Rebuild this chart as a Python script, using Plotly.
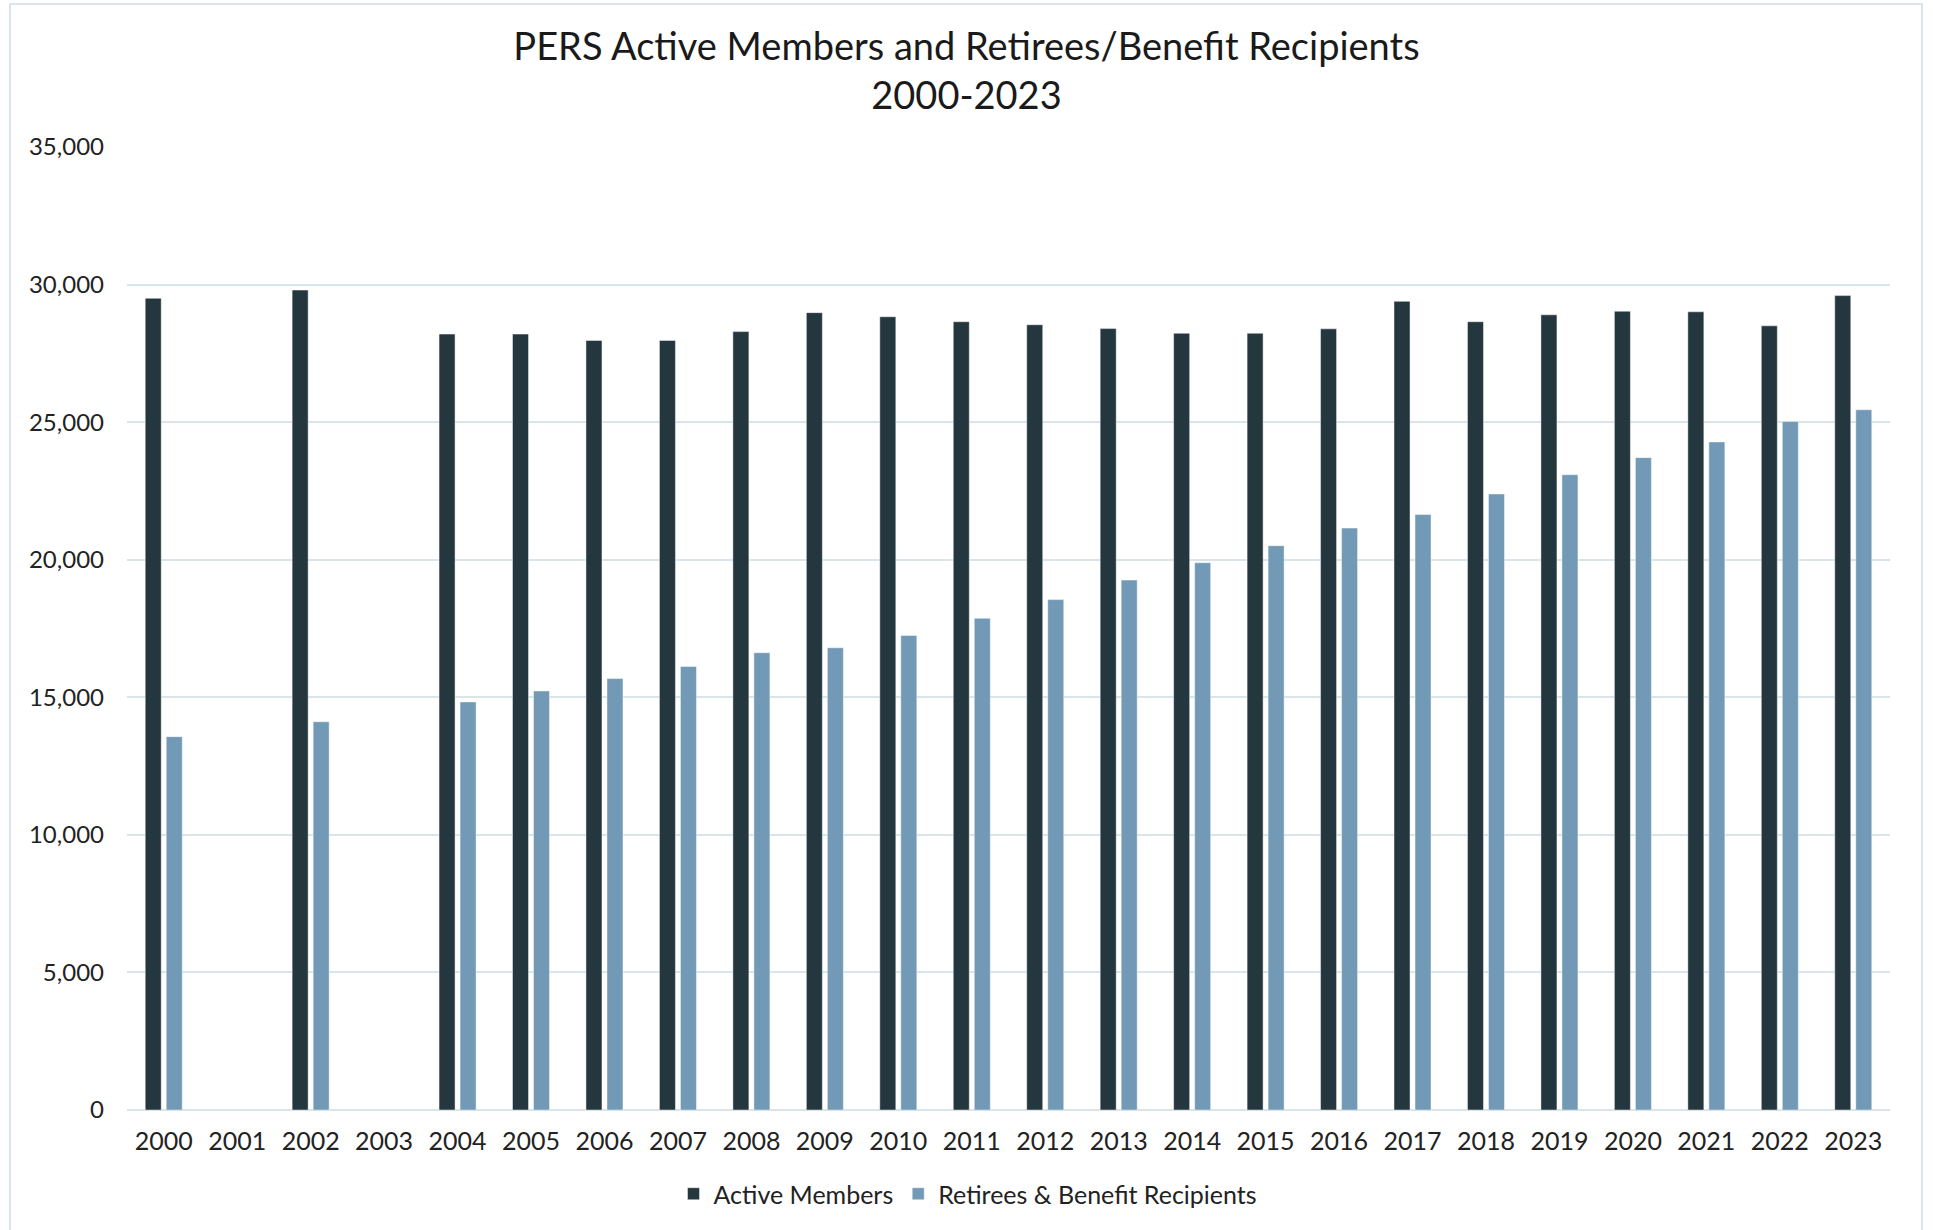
import plotly.graph_objects as go

years = [str(y) for y in range(2000, 2024)]
active_members = [29500, None, 29800, None, 28200, 28200, 27970, 27970, 28290, 28980,
                  28830, 28650, 28540, 28400, 28230, 28230, 28390, 29390, 28650, 28900,
                  29030, 29010, 28500, 29600]
retirees = [13570, None, 14110, None, 14830, 15230, 15680, 16120, 16620, 16800,
            17250, 17870, 18550, 19260, 19890, 20510, 21150, 21640, 22390, 23090,
            23710, 24280, 25020, 25450]
y_ticks = [0, 5000, 10000, 15000, 20000, 25000, 30000, 35000]

DARK = "#25373E"
LIGHT = "#7299B6"
GRID = "#D9E5E8"
FONT = "Lato"

W, H = 1933, 1230
# plot area in page pixels
PL, PR, PT, PB = 127, 1890, 147, 1110
ML, MT = PL, PT
MR, MB = W - PR, H - PB
PW, PH = W - ML - MR, H - MT - MB

fig = go.Figure()
fig.add_trace(go.Bar(x=years, y=active_members, name="Active Members",
                     marker=dict(color=DARK, line=dict(width=1, color="rgba(255,255,255,0.45)"))))
fig.add_trace(go.Bar(x=years, y=retirees, name="Retirees & Benefit Recipients",
                     marker=dict(color=LIGHT, line=dict(width=1, color="rgba(255,255,255,0.45)"))))

def px_x(p):
    return (p - ML) / PW

def px_y(p):
    return (H - MB - p) / PH

fig.update_layout(
    width=W, height=H, autosize=False,
    margin=dict(l=ML, r=MR, t=MT, b=MB, autoexpand=False),
    paper_bgcolor="white", plot_bgcolor="white",
    font=dict(family=FONT, size=24, color="#222222"),
    title=dict(text="PERS Active Members and Retirees/Benefit Recipients<br>2000-2023",
               x=0.5, xref="container", xanchor="center",
               y=1 - 60 / H, yref="container", yanchor="middle",
               font=dict(family=FONT, size=38, color="#1a1a1a")),
    barmode="group", bargap=0.428, bargroupgap=0.238,
    showlegend=True,
    legend=dict(orientation="h", x=px_x(968), xref="paper", xanchor="center",
                y=px_y(1194), yref="paper", yanchor="middle",
                font=dict(family=FONT, size=25, color="#222222"),
                traceorder="normal"),
    xaxis=dict(type="category", showgrid=False, showline=False, zeroline=False,
               ticks="", tickangle=0, ticklabelstandoff=14, tickfont=dict(size=25),
               automargin=False),
    yaxis=dict(range=[0, 35000], tickvals=y_ticks, tickformat=",d", showgrid=True,
               gridcolor=GRID, gridwidth=2, zeroline=True, zerolinecolor=GRID, zerolinewidth=2,
               showline=False, ticks="", ticklabelstandoff=22, tickfont=dict(size=24),
               automargin=False),
    shapes=[dict(type="rect", xref="paper", yref="paper",
                 x0=px_x(10), x1=px_x(1922), y0=px_y(1250), y1=px_y(4),
                 line=dict(color=GRID, width=2), fillcolor="rgba(0,0,0,0)", layer="below")],
)

fig.write_html("out.html", config={"displayModeBar": False},
               post_script="document.body.style.margin='0';document.body.style.overflow='hidden';")
